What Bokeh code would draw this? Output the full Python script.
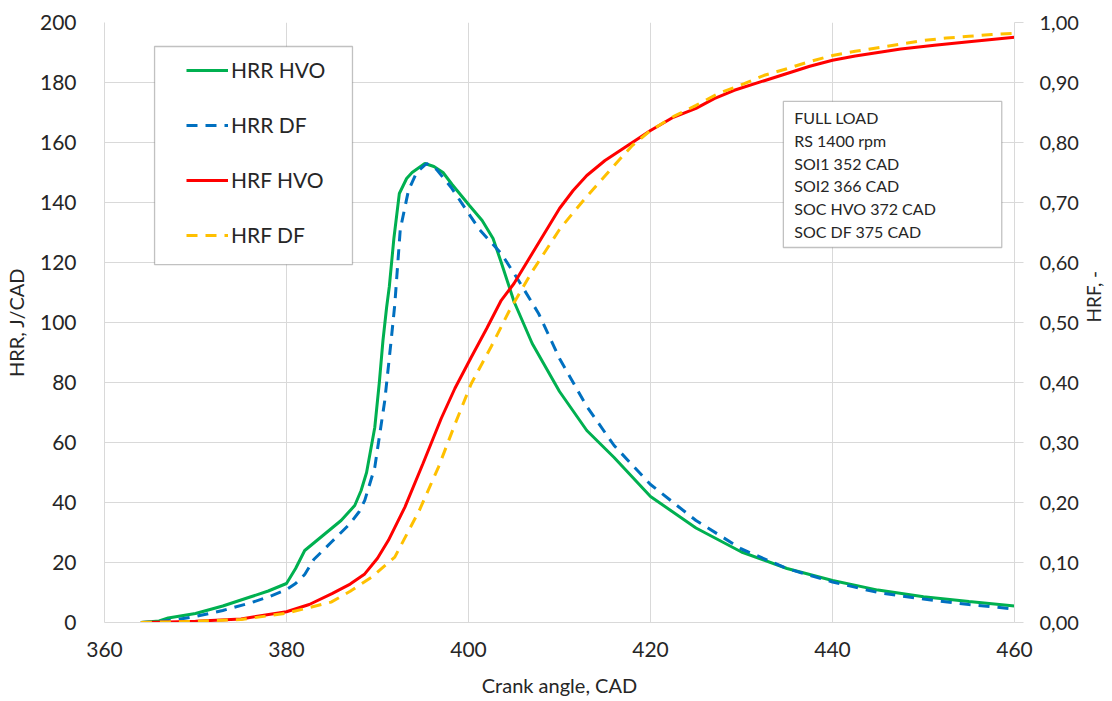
import math
from bokeh.plotting import figure
from bokeh.models import Range1d, LinearAxis, FixedTicker, Legend, LegendItem, BoxAnnotation, Label
from bokeh.embed import file_html
from bokeh.resources import INLINE

# HRR HVO (J/CAD)
hrr_hvo_x = [364, 366, 367, 370, 373, 376, 378, 380, 381, 382, 384, 386, 387.5, 388.2, 388.8,
             389.7, 390.2, 390.6, 391, 391.3, 391.8, 392.4, 393.2, 393.8, 395.2, 396.2, 397.2,
             398.2, 400.1, 401.5, 402.7, 403.6, 405, 407, 410, 413, 416, 420, 425, 430, 435,
             440, 445, 450, 455, 460]
hrr_hvo_y = [0, 0.5, 1.5, 3, 5.5, 8.5, 10.5, 13, 18, 24, 29, 34, 39, 44, 50,
             65, 80, 94, 105, 112, 128, 143, 148, 150, 153, 152, 150,
             146, 139, 134, 128, 120, 107, 93, 77, 64, 55, 42, 31.5, 23.5, 18,
             14, 10.8, 8.6, 7, 5.5]

# HRR DF (J/CAD)
hrr_df_x = [364, 366, 368, 370, 373, 376, 378, 380, 381, 382, 383, 385, 387, 388, 388.6,
            389.7, 390.8, 391.5, 391.9, 392.5, 393.4, 394.3, 395.4, 396.5, 398.1, 401.2,
            403.6, 405.5, 407.7, 410, 413, 416, 420, 425, 430, 435, 440, 445, 450, 455, 460]
hrr_df_y = [0, 0.3, 1, 2, 4, 6.5, 8.5, 11, 13, 16, 21, 27, 33, 37, 40.7,
            51.7, 74, 94, 106, 131, 144, 150, 153, 151, 145, 131,
            123, 114, 103, 88, 72, 59, 46, 34, 24.5, 18, 13.5, 10, 7.8, 6, 4.5]

# HRF HVO (-)
hrf_hvo_x = [364, 367, 370, 375, 380, 382.5, 385, 387, 388.6, 390, 391.2, 393, 395, 397, 398.5,
             400.3, 402, 403.6, 405, 407, 410, 411.5, 413, 415, 416.5, 418, 420, 422.5, 425,
             427, 429.2, 432.5, 435, 437.5, 440, 442.5, 445, 447.5, 451.2, 455, 460]
hrf_hvo_y = [0, 0.001, 0.002, 0.006, 0.018, 0.03, 0.048, 0.064, 0.081, 0.107, 0.137, 0.192,
             0.265, 0.34, 0.39, 0.442, 0.49, 0.537, 0.565, 0.615, 0.69, 0.72, 0.745, 0.77,
             0.785, 0.80, 0.82, 0.842, 0.857, 0.873, 0.887, 0.903, 0.915, 0.927, 0.937, 0.944,
             0.95, 0.956, 0.962, 0.968, 0.9755]

# HRF DF (-)
hrf_df_x = [364, 367, 370, 375, 379.8, 382, 384.9, 387, 389.3, 391.9, 394.6, 396.7, 398.5,
            400.3, 402.5, 404.5, 407, 410, 411.5, 413, 416.5, 418, 420, 422.5, 425, 427.5,
            430.3, 432.5, 435, 437.5, 440, 442.5, 445, 447.5, 450, 452.5, 455, 457.5, 460]
hrf_df_y = [0, 0.001, 0.002, 0.005, 0.015, 0.023, 0.034, 0.052, 0.075, 0.109, 0.187, 0.259,
            0.33, 0.398, 0.46, 0.52, 0.585, 0.655, 0.683, 0.71, 0.77, 0.795, 0.82, 0.843,
            0.862, 0.882, 0.898, 0.912, 0.923, 0.935, 0.945, 0.952, 0.958, 0.964, 0.97,
            0.974, 0.977, 0.98, 0.982]

left_ticks = [0, 20, 40, 60, 80, 100, 120, 140, 160, 180, 200]
right_ticks = [0.0, 0.1, 0.2, 0.3, 0.4, 0.5, 0.6, 0.7, 0.8, 0.9, 1.0]
right_tick_labels = ["0,00", "0,10", "0,20", "0,30", "0,40", "0,50", "0,60", "0,70", "0,80", "0,90", "1,00"]
x_ticks = [360, 380, 400, 420, 440, 460]

info_lines = ["FULL LOAD", "RS 1400 rpm", "SOI1 352 CAD", "SOI2 366 CAD", "SOC HVO 372 CAD", "SOC DF 375 CAD"]

FONT = "Lato"
TXT = "#262626"
GRID = "#d9d9d9"

p = figure(width=1112, height=701, frame_width=910, frame_height=600,
           output_backend="svg", toolbar_location=None,
           x_range=Range1d(360, 460), y_range=Range1d(0, 200),
           min_border_left=103, min_border_right=99, min_border_top=22, min_border_bottom=79)
p.outline_line_color = None
p.extra_y_ranges = {"hrf": Range1d(0, 1)}

p.xaxis.ticker = FixedTicker(ticks=x_ticks)
p.yaxis.ticker = FixedTicker(ticks=left_ticks)
p.xgrid.ticker = FixedTicker(ticks=x_ticks)
p.ygrid.ticker = FixedTicker(ticks=left_ticks)
for g in (p.xgrid, p.ygrid):
    g.grid_line_color = GRID
    g.grid_line_width = 1

for ax in (p.xaxis, p.yaxis):
    ax.axis_line_color = GRID
    ax.major_tick_line_color = None
    ax.minor_tick_line_color = None
    ax.major_label_text_font = FONT
    ax.major_label_text_font_size = "21px"
    ax.major_label_text_color = TXT
    ax.axis_label_text_font = FONT
    ax.axis_label_text_font_size = "20px"
    ax.axis_label_text_font_style = "normal"
    ax.axis_label_text_color = TXT

p.xaxis.axis_label = "Crank angle, CAD"
p.yaxis.axis_label = "HRR, J/CAD"
p.xaxis.major_label_standoff = 13
p.yaxis.major_label_standoff = 22
p.xaxis.axis_label_standoff = 13
p.yaxis.axis_label_standoff = 9

ra = LinearAxis(y_range_name="hrf", ticker=FixedTicker(ticks=right_ticks),
                major_label_overrides={t: l for t, l in zip(right_ticks, right_tick_labels)})
ra.axis_label = "HRF, -"
ra.axis_line_color = GRID
ra.major_tick_line_color = GRID
ra.major_tick_in = 0
ra.major_tick_out = 9
ra.minor_tick_line_color = None
ra.major_label_standoff = 16
ra.major_label_text_font = FONT
ra.major_label_text_font_size = "20px"
ra.major_label_text_color = TXT
ra.axis_label_text_font = FONT
ra.axis_label_text_font_size = "19px"
ra.axis_label_text_font_style = "normal"
ra.axis_label_text_color = TXT
ra.axis_label_standoff = 12
ra.axis_label_orientation = math.pi / 2
p.add_layout(ra, "right")

r1 = p.line(hrr_hvo_x, hrr_hvo_y, line_color="#00b050", line_width=3)
r2 = p.line(hrr_df_x, hrr_df_y, line_color="#0070c0", line_width=3, line_dash="11 8")
r3 = p.line(hrf_hvo_x, hrf_hvo_y, y_range_name="hrf", line_color="#ff0000", line_width=3)
r4 = p.line(hrf_df_x, hrf_df_y, y_range_name="hrf", line_color="#ffc000", line_width=3, line_dash="11 8")

# legend frame
p.add_layout(BoxAnnotation(left=365.5, right=387.25, top=192, bottom=119.3,
                           fill_color="white", fill_alpha=1, line_color="#333333", line_width=1.3))
legend = Legend(items=[LegendItem(label="HRR HVO", renderers=[r1]),
                       LegendItem(label="HRR DF", renderers=[r2]),
                       LegendItem(label="HRF HVO", renderers=[r3]),
                       LegendItem(label="HRF DF", renderers=[r4])],
                location=(82, 375), padding=0, margin=0, spacing=30,
                glyph_width=42, glyph_height=20, label_height=20, label_standoff=3,
                label_text_font=FONT, label_text_font_size="21px", label_text_color=TXT,
                border_line_alpha=0, background_fill_alpha=0)
p.add_layout(legend, "center")

# info box
p.add_layout(BoxAnnotation(left=434.6, right=458.6, top=173.7, bottom=125,
                           fill_color="white", fill_alpha=1, line_color="#333333", line_width=1.3))
p.add_layout(Label(x=435.8, y=171.5, text="\n".join(info_lines), text_font=FONT,
                   text_font_size="16px", text_color=TXT, text_baseline="top",
                   text_align="left", text_line_height=1.2))

open("out.html", "w").write(file_html(p, INLINE))
